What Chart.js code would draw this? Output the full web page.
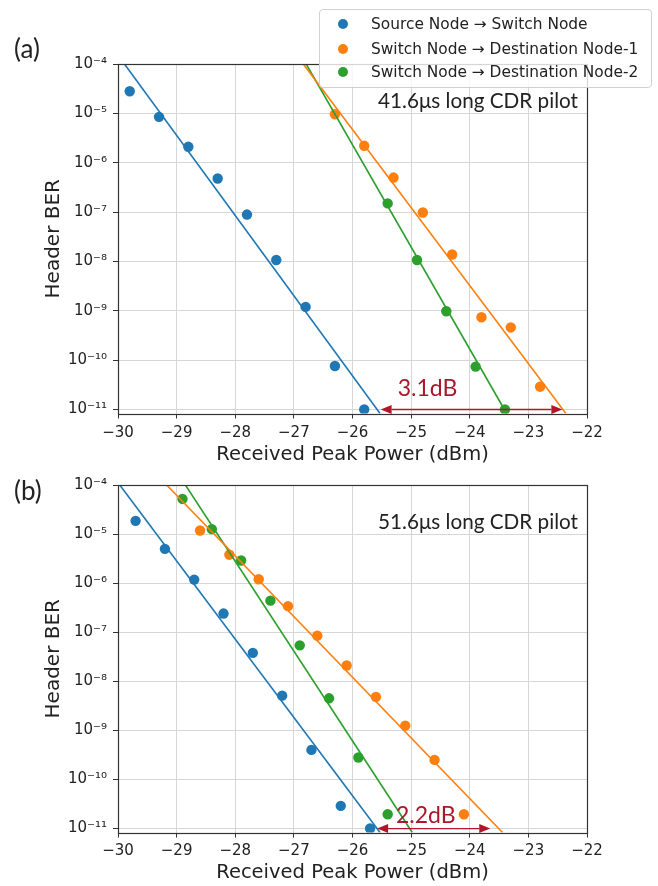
<!DOCTYPE html>
<html><head><meta charset="utf-8">
<script src="https://cdn.jsdelivr.net/npm/chart.js@4.4.1/dist/chart.umd.min.js"></script>
<style>
html,body{margin:0;padding:0;background:#fff;overflow:hidden;width:658px;height:886px;}
#wrap{position:relative;width:658px;height:886px;}
canvas{position:absolute;left:0;}
#ca{top:0;} #cb{top:470px;}
.plabel{position:absolute;font-family:Lato,sans-serif;font-size:26px;color:#222;line-height:30px;}
#legend{position:absolute;left:319px;top:9px;width:333px;height:79px;border:1px solid #d0d0d0;border-radius:4px;background:rgba(255,255,255,0.8);box-sizing:border-box;font-family:"DejaVu Sans",sans-serif;font-size:15.4px;color:#222;z-index:5;}
.li{position:absolute;left:0;height:20px;line-height:20px;white-space:nowrap;}
.dot{position:absolute;left:18px;width:10px;height:10px;border-radius:50%;top:5px;}
.lt{position:absolute;left:51px;top:0;}
</style></head>
<body><div id="wrap">
<canvas id="ca" width="658" height="470"></canvas>
<canvas id="cb" width="658" height="416"></canvas>
<div class="plabel" style="left:14px;top:33px;">(a)</div>
<div class="plabel" style="left:14px;top:475px;">(b)</div>
<div id="legend"></div>
</div>
<script>
// ---- data ----
const seriesNames = ['Source Node \u2192 Switch Node', 'Switch Node \u2192 Destination Node-1', 'Switch Node \u2192 Destination Node-2'];
const seriesColors = ['#1f77b4', '#ff7f0e', '#2ca02c'];

const xTickLabels = ['\u221230','\u221229','\u221228','\u221227','\u221226','\u221225','\u221224','\u221223','\u221222'];
const yTickValues = [1e-11,1e-10,1e-9,1e-8,1e-7,1e-6,1e-5,1e-4];
const yTickLabels = ['10\u207B\u00B9\u00B9','10\u207B\u00B9\u2070','10\u207B\u2079','10\u207B\u2078','10\u207B\u2077','10\u207B\u2076','10\u207B\u2075','10\u207B\u2074'];
const xTitle = 'Received Peak Power (dBm)';
const yTitle = 'Header BER';

// panel (a): 41.6 us pilot
const aBlueX   = [-29.8, -29.3, -28.8, -28.3, -27.8, -27.3, -26.8, -26.3, -25.8];
const aBlueY   = [2.8e-5, 8.5e-6, 2.1e-6, 4.8e-7, 8.9e-8, 1.07e-8, 1.2e-9, 7.6e-11, 1.0e-11];
const aOrangeX = [-26.3, -25.8, -25.3, -24.8, -24.3, -23.8, -23.3, -22.8];
const aOrangeY = [9.6e-6, 2.2e-6, 5.0e-7, 9.8e-8, 1.38e-8, 7.4e-10, 4.6e-10, 2.9e-11];
const aGreenX  = [-25.4, -24.9, -24.4, -23.9, -23.4];
const aGreenY  = [1.5e-7, 1.07e-8, 9.8e-10, 7.4e-11, 1.0e-11];
// fitted lines: x at BER 1e-4 and at the lower axis limit
const aFitBlueX   = [-29.89, -25.53];
const aFitOrangeX = [-26.84, -22.36];
const aFitGreenX  = [-26.79, -23.37];
const aGap = {from: -25.52, to: -22.42, y: 1e-11, label: '3.1dB', labelX: -24.72, labelY: 2.7e-11};
const aNote = '41.6\u03BCs long CDR pilot';

// panel (b): 51.6 us pilot
const bBlueX   = [-29.7, -29.2, -28.7, -28.2, -27.7, -27.2, -26.7, -26.2, -25.7];
const bBlueY   = [1.86e-5, 5.0e-6, 1.18e-6, 2.4e-7, 3.8e-8, 5.1e-9, 4.0e-10, 2.9e-11, 1.0e-11];
const bOrangeX = [-28.6, -28.1, -27.6, -27.1, -26.6, -26.1, -25.6, -25.1, -24.6, -24.1];
const bOrangeY = [1.18e-5, 3.8e-6, 1.2e-6, 3.4e-7, 8.5e-8, 2.1e-8, 4.8e-9, 1.25e-9, 2.5e-10, 1.95e-11];
const bGreenX  = [-28.9, -28.4, -27.9, -27.4, -26.9, -26.4, -25.9, -25.4];
const bGreenY  = [5.2e-5, 1.26e-5, 2.9e-6, 4.4e-7, 5.4e-8, 4.5e-9, 2.8e-10, 1.95e-11];
const bFitBlueX   = [-29.97, -25.53];
const bFitOrangeX = [-29.17, -23.44];
const bFitGreenX  = [-28.85, -24.98];
const bGap = {from: -25.58, to: -23.65, y: 1e-11, label: '2.2dB', labelX: -24.75, labelY: 1.86e-11};
const bNote = '51.6\u03BCs long CDR pilot';

const fitBerY = [1e-4, 8.3e-12];
const yMin = 8.3e-12, yMax = 1e-4, xMin = -30, xMax = -22;

// ---- legend ----
const lg = document.getElementById('legend');
const legendTops = [4, 29, 52];
seriesNames.forEach((n, i) => {
  const d = document.createElement('div');
  d.className = 'li'; d.style.top = legendTops[i] + 'px';
  d.innerHTML = '<span class="dot" style="background:' + seriesColors[i] + '"></span><span class="lt"></span>';
  d.querySelector('.lt').textContent = n;
  lg.appendChild(d);
});

// ---- helpers ----
const pts = (xs, ys) => xs.map((x, i) => ({x: x, y: ys[i]}));
function datasets(bx, by, ox, oy, gx, gy, fb, fo, fg) {
  const fit = (xs, c) => ({data: pts(xs, fitBerY), showLine: true, borderColor: c, borderWidth: 1.6, pointRadius: 0, fill: false});
  const sc = (xs, ys, c) => ({data: pts(xs, ys), backgroundColor: c, borderColor: c, pointRadius: 5.2, pointBorderWidth: 0, showLine: false});
  return [fit(fb, seriesColors[0]), fit(fo, seriesColors[1]), fit(fg, seriesColors[2]),
          sc(bx, by, seriesColors[0]), sc(ox, oy, seriesColors[1]), sc(gx, gy, seriesColors[2])];
}

const framePlugin = {
  id: 'frame',
  afterDatasetsDraw(chart) {
    const {ctx, chartArea: a} = chart;
    ctx.save(); ctx.strokeStyle = '#333'; ctx.lineWidth = 1.2;
    const l = Math.round(a.left) + 0.5, t = Math.round(a.top) + 0.5, r = Math.round(a.right) + 0.5, b = Math.round(a.bottom) + 0.5;
    ctx.strokeRect(l, t, r - l, b - t);
    ctx.restore();
  }
};

function annotPlugin(gap, note) {
  return {
    id: 'annot',
    afterDatasetsDraw(chart) {
      const {ctx, chartArea: a, scales: {x, y}} = chart;
      ctx.save();
      const red = '#b3152a';
      const py = y.getPixelForValue(gap.y);
      const x1 = x.getPixelForValue(gap.from), x2 = x.getPixelForValue(gap.to);
      const hl = 11, hw = 4.5;
      ctx.strokeStyle = red; ctx.fillStyle = red; ctx.lineWidth = 1.3;
      ctx.beginPath(); ctx.moveTo(x1 + hl, py); ctx.lineTo(x2 - hl, py); ctx.stroke();
      ctx.beginPath(); ctx.moveTo(x1, py); ctx.lineTo(x1 + hl, py - hw); ctx.lineTo(x1 + hl, py + hw); ctx.closePath(); ctx.fill();
      ctx.beginPath(); ctx.moveTo(x2, py); ctx.lineTo(x2 - hl, py - hw); ctx.lineTo(x2 - hl, py + hw); ctx.closePath(); ctx.fill();
      ctx.font = '23px Lato, sans-serif'; ctx.textAlign = 'center'; ctx.textBaseline = 'middle';
      ctx.fillStyle = '#a8192b';
      ctx.fillText(gap.label, x.getPixelForValue(gap.labelX), y.getPixelForValue(gap.labelY));
      ctx.fillStyle = '#222'; ctx.font = '20.7px Lato, sans-serif'; ctx.textAlign = 'right';
      ctx.fillText(note, a.right - 9, a.top + 37);
      ctx.restore();
    }
  };
}

function makeChart(id, ds, cfg) {
  return new Chart(document.getElementById(id), {
    type: 'scatter',
    data: {datasets: ds},
    plugins: [framePlugin, annotPlugin(cfg.gap, cfg.note)],
    options: {
      responsive: false, animation: false, events: [],
      layout: {padding: {top: cfg.padTop, right: 71, left: 38, bottom: 0}},
      plugins: {legend: {display: false}, tooltip: {enabled: false}},
      scales: {
        x: {
          type: 'linear', min: xMin, max: xMax,
          afterFit(s) { s.height = cfg.xH; },
          ticks: {stepSize: 1, autoSkip: false, maxRotation: 0, font: {family: 'DejaVu Sans', size: 15}, color: '#222', padding: cfg.xTickPad,
                  callback: (v, i) => xTickLabels[i]},
          grid: {color: '#d6d6d6', tickColor: '#333', tickLength: 5, lineWidth: 1},
          border: {display: false},
          title: {display: true, text: xTitle, font: {family: 'DejaVu Sans', size: 19.5}, color: '#222', padding: {top: 0, bottom: cfg.xTitlePad}}
        },
        y: {
          type: 'logarithmic', min: yMin, max: yMax,
          afterFit(s) { s.width = 80; },
          afterBuildTicks(s) { s.ticks = yTickValues.map(v => ({value: v})); },
          ticks: {autoSkip: false, font: {family: 'DejaVu Sans', size: 15}, color: '#222', padding: 6,
                  callback: (v, i) => yTickLabels[i]},
          grid: {color: '#d6d6d6', tickColor: '#333', tickLength: 5, lineWidth: 1},
          border: {display: false},
          title: {display: true, text: yTitle, font: {family: 'DejaVu Sans', size: 20}, color: '#222', padding: {top: 4, bottom: 0}}
        }
      }
    }
  });
}

makeChart('ca', datasets(aBlueX, aBlueY, aOrangeX, aOrangeY, aGreenX, aGreenY, aFitBlueX, aFitOrangeX, aFitGreenX),
  {padTop: 64, xH: 56.5, xTickPad: 6, xTitlePad: 3, gap: aGap, note: aNote});
makeChart('cb', datasets(bBlueX, bBlueY, bOrangeX, bOrangeY, bGreenX, bGreenY, bFitBlueX, bFitOrangeX, bFitGreenX),
  {padTop: 13, xH: 53.5, xTickPad: 5, xTitlePad: 1.5, gap: bGap, note: bNote});
</script>
</body></html>
